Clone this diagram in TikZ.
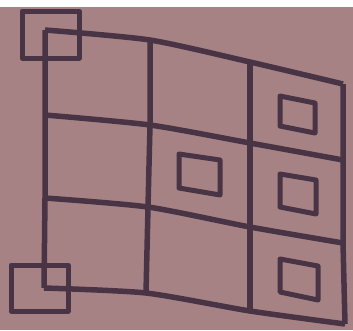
\documentclass[tikz,border=0pt]{standalone}
\usepackage{tikz}
\usetikzlibrary{calc}
\definecolor{paper}{RGB}{166,130,132}
\definecolor{ink}{RGB}{72,52,68}

\begin{document}
\begin{tikzpicture}[x=1pt, y=-1pt, every path/.style={line join=round},
    pen/.style={draw=ink, line width=5.5pt},
    box/.style={draw=ink, line width=5pt}]
    \useasboundingbox (0,0) rectangle (353,330);
    \fill[white] (0,0) rectangle (353,7);
    \fill[paper] (0,7) rectangle (353,330);

    % grid points
    \coordinate (a0) at (45,30);  \coordinate (a1) at (150,40);  \coordinate (a2) at (250,62);  \coordinate (a3) at (343,84);
    \coordinate (b0) at (45,115); \coordinate (b1) at (150,125); \coordinate (b2) at (250,143); \coordinate (b3) at (343,160);
    \coordinate (c0) at (45,198); \coordinate (c1) at (148,207); \coordinate (c2) at (250,227); \coordinate (c3) at (343,243);
    \coordinate (d0) at (44,288); \coordinate (d1) at (146,293); \coordinate (d2) at (250,311); \coordinate (d3) at (345,324);

    \draw[pen] plot[smooth, tension=0.4] coordinates {(a0) (a1) (a2) (a3)};
    \draw[pen] plot[smooth, tension=0.4] coordinates {(b0) (b1) (b2) (b3)};
    \draw[pen] plot[smooth, tension=0.4] coordinates {(c0) (c1) (c2) (c3)};
    \draw[pen] plot[smooth, tension=0.4] coordinates {(d0) (d1) (d2) (d3)};
    \draw[pen] (a0)--(b0)--(c0)--(d0);
    \draw[pen] (a1)--(b1)--(c1)--(d1);
    \draw[pen] (a2)--(b2)--(c2)--(d2);
    \draw[pen] (a3)--(b3)--(c3)--(d3);

    % corner squares
    \draw[box] (22,11) rectangle (79,58);
    \draw[box] (11,265) rectangle (68,311);

    % small boxes in cells
    \draw[box] (280,96)--(315,103)--(315,133)--(280,126)--cycle;
    \draw[box] (179,154)--(220,160)--(220,195)--(179,188)--cycle;
    \draw[box] (280,174)--(316,180)--(316,214)--(280,207)--cycle;
    \draw[box] (280,259)--(318,266)--(318,300)--(280,292)--cycle;
\end{tikzpicture}
\end{document}
